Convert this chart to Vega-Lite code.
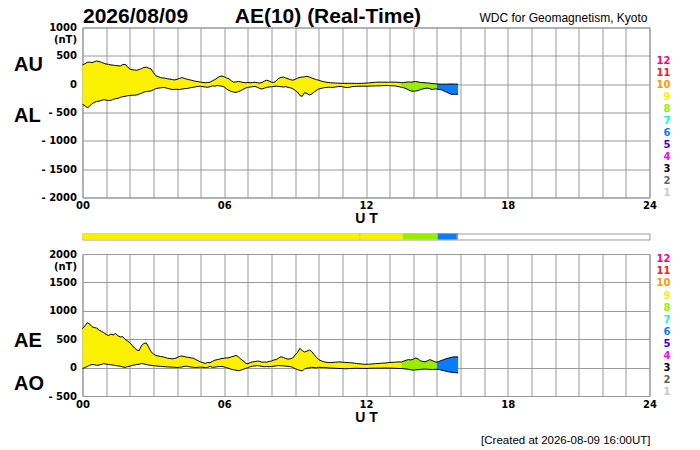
{
  "$schema": "https://vega.github.io/schema/vega-lite/v6.json",
  "description": "AE(10) real-time geomagnetic index, 2026-08-09: AU/AL and AE/AO panels",
  "background": "white",
  "padding": {"left": 12.5, "top": 4.5, "right": 5, "bottom": 2},
  "datasets": {
    "series": [
      {"t":0,"n":9,"au":335,"al":-355,"ae":685,"ao":-15},
      {"t":0.1,"n":9,"au":360,"al":-380,"ae":735,"ao":0},
      {"t":0.2,"n":9,"au":385,"al":-415,"ae":790,"ao":20},
      {"t":0.3,"n":9,"au":390,"al":-390,"ae":770,"ao":40},
      {"t":0.4,"n":9,"au":380,"al":-345,"ae":720,"ao":55},
      {"t":0.5,"n":9,"au":395,"al":-320,"ae":705,"ao":50},
      {"t":0.6,"n":9,"au":410,"al":-305,"ae":695,"ao":40},
      {"t":0.7,"n":9,"au":400,"al":-300,"ae":660,"ao":45},
      {"t":0.8,"n":9,"au":385,"al":-285,"ae":640,"ao":55},
      {"t":0.9,"n":9,"au":370,"al":-275,"ae":615,"ao":70},
      {"t":1.0,"n":9,"au":355,"al":-280,"ae":585,"ao":60},
      {"t":1.1,"n":9,"au":350,"al":-290,"ae":565,"ao":55},
      {"t":1.2,"n":9,"au":340,"al":-285,"ae":590,"ao":50},
      {"t":1.3,"n":9,"au":335,"al":-270,"ae":575,"ao":45},
      {"t":1.4,"n":9,"au":330,"al":-255,"ae":600,"ao":35},
      {"t":1.5,"n":9,"au":325,"al":-250,"ae":560,"ao":30},
      {"t":1.6,"n":9,"au":320,"al":-235,"ae":540,"ao":25},
      {"t":1.7,"n":9,"au":345,"al":-220,"ae":545,"ao":10},
      {"t":1.8,"n":9,"au":350,"al":-215,"ae":500,"ao":5},
      {"t":1.9,"n":9,"au":310,"al":-205,"ae":470,"ao":15},
      {"t":2.0,"n":9,"au":265,"al":-200,"ae":440,"ao":25},
      {"t":2.1,"n":9,"au":255,"al":-195,"ae":390,"ao":40},
      {"t":2.2,"n":9,"au":250,"al":-195,"ae":345,"ao":45},
      {"t":2.3,"n":9,"au":245,"al":-190,"ae":310,"ao":55},
      {"t":2.4,"n":9,"au":260,"al":-175,"ae":300,"ao":60},
      {"t":2.5,"n":9,"au":275,"al":-160,"ae":390,"ao":70},
      {"t":2.6,"n":9,"au":295,"al":-140,"ae":425,"ao":65},
      {"t":2.7,"n":9,"au":300,"al":-130,"ae":435,"ao":55},
      {"t":2.8,"n":9,"au":285,"al":-125,"ae":360,"ao":45},
      {"t":2.9,"n":9,"au":270,"al":-120,"ae":280,"ao":40},
      {"t":3.0,"n":9,"au":205,"al":-100,"ae":240,"ao":35},
      {"t":3.1,"n":9,"au":150,"al":-80,"ae":215,"ao":30},
      {"t":3.2,"n":9,"au":135,"al":-70,"ae":205,"ao":25},
      {"t":3.3,"n":9,"au":115,"al":-65,"ae":195,"ao":22},
      {"t":3.4,"n":9,"au":110,"al":-60,"ae":190,"ao":18},
      {"t":3.5,"n":9,"au":105,"al":-62,"ae":180,"ao":15},
      {"t":3.6,"n":9,"au":95,"al":-75,"ae":165,"ao":12},
      {"t":3.7,"n":9,"au":90,"al":-85,"ae":160,"ao":10},
      {"t":3.8,"n":9,"au":80,"al":-95,"ae":155,"ao":8},
      {"t":3.9,"n":9,"au":75,"al":-92,"ae":160,"ao":5},
      {"t":4.0,"n":9,"au":85,"al":-90,"ae":175,"ao":0},
      {"t":4.1,"n":9,"au":100,"al":-95,"ae":195,"ao":5},
      {"t":4.2,"n":9,"au":115,"al":-88,"ae":205,"ao":10},
      {"t":4.3,"n":9,"au":105,"al":-80,"ae":195,"ao":20},
      {"t":4.4,"n":9,"au":90,"al":-78,"ae":185,"ao":25},
      {"t":4.5,"n":9,"au":80,"al":-70,"ae":180,"ao":15},
      {"t":4.6,"n":9,"au":70,"al":-60,"ae":170,"ao":10},
      {"t":4.7,"n":9,"au":60,"al":-55,"ae":165,"ao":5},
      {"t":4.8,"n":9,"au":50,"al":-45,"ae":140,"ao":0},
      {"t":4.9,"n":9,"au":45,"al":-40,"ae":120,"ao":5},
      {"t":5.0,"n":9,"au":35,"al":-36,"ae":100,"ao":10},
      {"t":5.1,"n":9,"au":30,"al":-45,"ae":85,"ao":5},
      {"t":5.2,"n":9,"au":25,"al":-50,"ae":75,"ao":0},
      {"t":5.3,"n":9,"au":30,"al":-55,"ae":90,"ao":5},
      {"t":5.4,"n":9,"au":35,"al":-45,"ae":85,"ao":20},
      {"t":5.5,"n":9,"au":60,"al":-30,"ae":110,"ao":5},
      {"t":5.6,"n":9,"au":80,"al":-35,"ae":130,"ao":8},
      {"t":5.7,"n":9,"au":110,"al":-25,"ae":140,"ao":15},
      {"t":5.8,"n":9,"au":135,"al":-30,"ae":150,"ao":18},
      {"t":5.9,"n":9,"au":145,"al":-35,"ae":160,"ao":20},
      {"t":6.0,"n":9,"au":130,"al":-50,"ae":165,"ao":12},
      {"t":6.1,"n":9,"au":110,"al":-85,"ae":170,"ao":0},
      {"t":6.2,"n":9,"au":95,"al":-110,"ae":175,"ao":-15},
      {"t":6.3,"n":9,"au":60,"al":-130,"ae":190,"ao":-30},
      {"t":6.4,"n":9,"au":35,"al":-140,"ae":200,"ao":-40},
      {"t":6.5,"n":9,"au":40,"al":-145,"ae":215,"ao":-45},
      {"t":6.6,"n":9,"au":48,"al":-130,"ae":190,"ao":-55},
      {"t":6.7,"n":9,"au":40,"al":-115,"ae":150,"ao":-45},
      {"t":6.8,"n":9,"au":30,"al":-90,"ae":120,"ao":-30},
      {"t":6.9,"n":9,"au":25,"al":-70,"ae":80,"ao":-15},
      {"t":7.0,"n":9,"au":30,"al":-55,"ae":65,"ao":0},
      {"t":7.1,"n":9,"au":25,"al":-50,"ae":90,"ao":15},
      {"t":7.2,"n":9,"au":30,"al":-45,"ae":100,"ao":25},
      {"t":7.3,"n":9,"au":35,"al":-40,"ae":105,"ao":30},
      {"t":7.4,"n":9,"au":25,"al":-55,"ae":115,"ao":35},
      {"t":7.5,"n":9,"au":20,"al":-75,"ae":110,"ao":30},
      {"t":7.6,"n":9,"au":30,"al":-85,"ae":95,"ao":20},
      {"t":7.7,"n":9,"au":55,"al":-70,"ae":100,"ao":15},
      {"t":7.8,"n":9,"au":70,"al":-55,"ae":95,"ao":18},
      {"t":7.9,"n":9,"au":55,"al":-50,"ae":110,"ao":15},
      {"t":8.0,"n":9,"au":35,"al":-45,"ae":115,"ao":20},
      {"t":8.1,"n":9,"au":30,"al":-40,"ae":135,"ao":25},
      {"t":8.2,"n":9,"au":60,"al":-35,"ae":140,"ao":30},
      {"t":8.3,"n":9,"au":100,"al":-40,"ae":170,"ao":35},
      {"t":8.4,"n":9,"au":120,"al":-45,"ae":190,"ao":32},
      {"t":8.5,"n":9,"au":125,"al":-50,"ae":180,"ao":30},
      {"t":8.6,"n":9,"au":110,"al":-45,"ae":160,"ao":25},
      {"t":8.7,"n":9,"au":95,"al":-55,"ae":150,"ao":22},
      {"t":8.8,"n":9,"au":80,"al":-65,"ae":155,"ao":15},
      {"t":8.9,"n":9,"au":70,"al":-80,"ae":170,"ao":5},
      {"t":9.0,"n":9,"au":85,"al":-110,"ae":220,"ao":-20},
      {"t":9.1,"n":9,"au":105,"al":-140,"ae":265,"ao":-35},
      {"t":9.2,"n":9,"au":120,"al":-200,"ae":340,"ao":-50},
      {"t":9.3,"n":9,"au":125,"al":-215,"ae":300,"ao":-58},
      {"t":9.4,"n":9,"au":130,"al":-150,"ae":275,"ao":-25},
      {"t":9.5,"n":9,"au":140,"al":-165,"ae":290,"ao":-10},
      {"t":9.6,"n":9,"au":125,"al":-190,"ae":310,"ao":-5},
      {"t":9.7,"n":9,"au":110,"al":-175,"ae":285,"ao":5},
      {"t":9.8,"n":9,"au":95,"al":-140,"ae":230,"ao":0},
      {"t":9.9,"n":9,"au":80,"al":-110,"ae":180,"ao":-5},
      {"t":10.0,"n":9,"au":70,"al":-85,"ae":140,"ao":5},
      {"t":10.1,"n":9,"au":55,"al":-75,"ae":120,"ao":3},
      {"t":10.2,"n":9,"au":45,"al":-65,"ae":105,"ao":2},
      {"t":10.3,"n":9,"au":35,"al":-60,"ae":95,"ao":0},
      {"t":10.4,"n":9,"au":30,"al":-55,"ae":90,"ao":-5},
      {"t":10.5,"n":9,"au":25,"al":-55,"ae":88,"ao":-8},
      {"t":10.6,"n":9,"au":22,"al":-58,"ae":92,"ao":-10},
      {"t":10.7,"n":9,"au":20,"al":-50,"ae":95,"ao":-12},
      {"t":10.8,"n":9,"au":18,"al":-45,"ae":98,"ao":-15},
      {"t":10.9,"n":9,"au":16,"al":-40,"ae":100,"ao":-16},
      {"t":11.0,"n":9,"au":15,"al":-45,"ae":95,"ao":-18},
      {"t":11.1,"n":9,"au":14,"al":-55,"ae":92,"ao":-20},
      {"t":11.2,"n":9,"au":15,"al":-60,"ae":90,"ao":-20},
      {"t":11.3,"n":9,"au":16,"al":-55,"ae":87,"ao":-18},
      {"t":11.4,"n":9,"au":15,"al":-45,"ae":85,"ao":-15},
      {"t":11.5,"n":9,"au":14,"al":-40,"ae":78,"ao":-13},
      {"t":11.6,"n":9,"au":13,"al":-38,"ae":72,"ao":-12},
      {"t":11.7,"n":9,"au":14,"al":-37,"ae":68,"ao":-13},
      {"t":11.8,"n":9,"au":15,"al":-36,"ae":65,"ao":-14},
      {"t":11.9,"n":9,"au":16,"al":-36,"ae":60,"ao":-15},
      {"t":12.0,"n":9,"au":18,"al":-36,"ae":58,"ao":-15},
      {"t":12.1,"n":9,"au":22,"al":-35,"ae":60,"ao":-14},
      {"t":12.2,"n":9,"au":26,"al":-33,"ae":62,"ao":-12},
      {"t":12.3,"n":9,"au":30,"al":-32,"ae":66,"ao":-11},
      {"t":12.4,"n":9,"au":33,"al":-30,"ae":70,"ao":-10},
      {"t":12.5,"n":9,"au":35,"al":-29,"ae":72,"ao":-10},
      {"t":12.6,"n":9,"au":36,"al":-28,"ae":75,"ao":-10},
      {"t":12.7,"n":9,"au":35,"al":-27,"ae":78,"ao":-9},
      {"t":12.8,"n":9,"au":35,"al":-25,"ae":80,"ao":-8},
      {"t":12.9,"n":9,"au":34,"al":-25,"ae":85,"ao":-9},
      {"t":13.0,"n":9,"au":35,"al":-25,"ae":90,"ao":-10},
      {"t":13.1,"n":9,"au":36,"al":-28,"ae":92,"ao":-11},
      {"t":13.2,"n":9,"au":35,"al":-30,"ae":95,"ao":-12},
      {"t":13.3,"n":9,"au":35,"al":-36,"ae":98,"ao":-14},
      {"t":13.4,"n":9,"au":30,"al":-45,"ae":100,"ao":-15},
      {"t":13.5,"n":9,"au":25,"al":-55,"ae":98,"ao":-17},
      {"t":13.5,"n":8,"au":25,"al":-55,"ae":98,"ao":-17},
      {"t":13.6,"n":8,"au":30,"al":-65,"ae":115,"ao":-20},
      {"t":13.7,"n":8,"au":35,"al":-80,"ae":130,"ao":-25},
      {"t":13.8,"n":8,"au":40,"al":-100,"ae":140,"ao":-30},
      {"t":13.9,"n":8,"au":35,"al":-120,"ae":135,"ao":-40},
      {"t":14.0,"n":8,"au":42,"al":-125,"ae":150,"ao":-44},
      {"t":14.1,"n":8,"au":47,"al":-120,"ae":168,"ao":-40},
      {"t":14.2,"n":8,"au":40,"al":-115,"ae":155,"ao":-38},
      {"t":14.3,"n":8,"au":30,"al":-95,"ae":120,"ao":-32},
      {"t":14.4,"n":8,"au":28,"al":-85,"ae":110,"ao":-28},
      {"t":14.5,"n":8,"au":25,"al":-75,"ae":100,"ao":-25},
      {"t":14.6,"n":8,"au":22,"al":-70,"ae":120,"ao":-28},
      {"t":14.7,"n":8,"au":18,"al":-80,"ae":140,"ao":-32},
      {"t":14.8,"n":8,"au":12,"al":-95,"ae":125,"ao":-35},
      {"t":14.9,"n":8,"au":8,"al":-85,"ae":105,"ao":-30},
      {"t":15.0,"n":8,"au":3,"al":-85,"ae":95,"ao":-30},
      {"t":15.0,"n":6,"au":3,"al":-85,"ae":95,"ao":-30},
      {"t":15.1,"n":6,"au":2,"al":-95,"ae":110,"ao":-35},
      {"t":15.2,"n":6,"au":0,"al":-100,"ae":128,"ao":-45},
      {"t":15.3,"n":6,"au":0,"al":-120,"ae":140,"ao":-55},
      {"t":15.4,"n":6,"au":0,"al":-140,"ae":160,"ao":-65},
      {"t":15.5,"n":6,"au":2,"al":-160,"ae":168,"ao":-75},
      {"t":15.6,"n":6,"au":3,"al":-176,"ae":180,"ao":-80},
      {"t":15.7,"n":6,"au":2,"al":-180,"ae":188,"ao":-85},
      {"t":15.8,"n":6,"au":0,"al":-178,"ae":190,"ao":-90},
      {"t":15.9,"n":6,"au":0,"al":-176,"ae":186,"ao":-93}
    ],
    "counts": [
      {"n":12},{"n":11},{"n":10},{"n":9},{"n":8},{"n":7},
      {"n":6},{"n":5},{"n":4},{"n":3},{"n":2},{"n":1}
    ],
    "segments": [
      {"s":0,"e":11.72,"n":9},
      {"s":11.72,"e":11.77,"n":8},
      {"s":11.77,"e":13.55,"n":9},
      {"s":13.55,"e":15.03,"n":8},
      {"s":15.03,"e":15.84,"n":6},
      {"s":15.84,"e":15.88,"n":11}
    ]
  },
  "vconcat": [
    {
      "width": 567,
      "height": 170,
      "layer": [
        {
          "data": {"name": "series"},
          "layer": [
            {
              "mark": {"type": "area", "interpolate": "linear"},
              "encoding": {
                "x": {
                  "field": "t",
                  "type": "quantitative",
                  "scale": {"domain": [0, 24], "nice": false, "zero": false},
                  "axis": {
                    "values": [0,1,2,3,4,5,6,7,8,9,10,11,12,13,14,15,16,17,18,19,20,21,22,23,24],
                    "tickCount": 30,
                    "labelExpr": "datum.value % 6 == 0 ? (datum.value < 10 ? '0' + datum.value : '' + datum.value) : ''",
                    "title": "U T",
                    "titleY": 24.5,
                    "titleBaseline": "alphabetic",
                    "titleFontSize": 14,
                    "labelPadding": 3
                  }
                },
                "y": {
                  "field": "au",
                  "type": "quantitative",
                  "scale": {"domain": [-2000, 1000], "nice": false, "zero": false},
                  "axis": {
                    "orient": "left",
                    "values": [-2000, -1500, -1000, -500, 0, 500, 1000],
                    "tickCount": 30,
                    "labelExpr": "datum.value == 1000 ? ['1000', '(nT)'] : (datum.value < 0 ? '- ' + (-datum.value) : '' + datum.value)",
                    "labelPadding": 6,
                    "labelLineHeight": 12,
                    "title": ["AU", "AL"],
                    "titleAngle": 0,
                    "titleAlign": "left",
                    "titleBaseline": "alphabetic",
                    "titleX": -69,
                    "titleY": 42.6,
                    "titleLineHeight": 51,
                    "titleFontSize": 20
                  }
                },
                "y2": {"field": "al"},
                "color": {
                  "field": "n",
                  "type": "ordinal",
                  "scale": {
                    "domain": [1,2,3,4,5,6,7,8,9,10,11,12],
                    "range": ["#c8c8c8","#646464","#000000","#ff00ff","#3c00ff","#0a7cff","#00ffd2","#99ee00","#faf000","#ff9900","#ff2020","#ff0080"]
                  },
                  "legend": null
                }
              }
            },
            {
              "mark": {"type": "line", "color": "#000", "strokeWidth": 1},
              "encoding": {
                "x": {"field": "t", "type": "quantitative"},
                "y": {"field": "au", "type": "quantitative"}
              }
            },
            {
              "mark": {"type": "line", "color": "#000", "strokeWidth": 1},
              "encoding": {
                "x": {"field": "t", "type": "quantitative"},
                "y": {"field": "al", "type": "quantitative"}
              }
            },
            {
              "data": {"values": [{"label": "2026/08/09\u00a0\u00a0\u00a0\u00a0\u00a0\u00a0\u00a0\u00a0AE(10) (Real-Time)"}]},
              "mark": {"type": "text", "align": "left", "baseline": "alphabetic", "dx": 0.5, "dy": -4.7, "font": "Liberation Sans", "fontSize": 21, "fontWeight": "bold", "color": "#000"},
              "encoding": {
                "x": {"datum": 0, "type": "quantitative"},
                "y": {"datum": 1000, "type": "quantitative"},
                "text": {"field": "label"}
              }
            },
            {
              "data": {"values": [{"label": "WDC for Geomagnetism, Kyoto"}]},
              "mark": {"type": "text", "align": "right", "baseline": "alphabetic", "dx": -2, "dy": -5.7, "font": "Liberation Sans", "fontSize": 12, "color": "#000"},
              "encoding": {
                "x": {"datum": 24, "type": "quantitative"},
                "y": {"datum": 1000, "type": "quantitative"},
                "text": {"field": "label"}
              }
            }
          ]
        },
        {
          "data": {"name": "counts"},
          "mark": {"type": "text", "align": "right", "baseline": "middle", "dx": 21, "font": "DejaVu Sans", "fontSize": 10, "fontWeight": "bold"},
          "encoding": {
            "x": {"datum": 24, "type": "quantitative"},
            "y": {"field": "n", "type": "quantitative", "scale": {"domain": [0.608, 14.775], "nice": false, "zero": false}, "axis": null},
            "text": {"field": "n", "type": "quantitative"},
            "color": {"field": "n", "type": "ordinal", "legend": null}
          }
        }
      ],
      "resolve": {"scale": {"y": "independent"}}
    },
    {
      "vconcat": [
        {
          "width": 567,
          "height": 6,
          "data": {"name": "segments"},
          "mark": "rect",
          "encoding": {
            "x": {"field": "s", "type": "quantitative", "scale": {"domain": [0, 24], "nice": false, "zero": false}, "axis": null},
            "x2": {"field": "e"},
            "color": {
              "field": "n",
              "type": "ordinal",
              "scale": {
                "domain": [1,2,3,4,5,6,7,8,9,10,11,12],
                "range": ["#c8c8c8","#646464","#000000","#ff00ff","#3c00ff","#0a7cff","#00ffd2","#99ee00","#faf000","#ff9900","#ff2020","#ff0080"]
              },
              "legend": null
            }
          }
        },
        {
          "width": 567,
          "height": 142,
          "layer": [
            {
              "data": {"name": "series"},
              "layer": [
                {
                  "mark": {"type": "area", "interpolate": "linear"},
                  "encoding": {
                    "x": {
                      "field": "t",
                      "type": "quantitative",
                      "scale": {"domain": [0, 24], "nice": false, "zero": false},
                      "axis": {
                        "values": [0,1,2,3,4,5,6,7,8,9,10,11,12,13,14,15,16,17,18,19,20,21,22,23,24],
                        "tickCount": 30,
                        "labelExpr": "datum.value % 6 == 0 ? (datum.value < 10 ? '0' + datum.value : '' + datum.value) : ''",
                        "title": "U T",
                        "titleY": 25,
                        "titleBaseline": "alphabetic",
                        "titleFontSize": 14,
                        "labelPadding": 3
                      }
                    },
                    "y": {
                      "field": "ae",
                      "type": "quantitative",
                      "scale": {"domain": [-500, 2000], "nice": false, "zero": false},
                      "axis": {
                        "orient": "left",
                        "values": [-500, 0, 500, 1000, 1500, 2000],
                        "tickCount": 30,
                        "labelExpr": "datum.value == 2000 ? ['2000', '(nT)'] : (datum.value < 0 ? '- ' + (-datum.value) : '' + datum.value)",
                        "labelPadding": 6,
                        "labelLineHeight": 12,
                        "title": ["AE", "AO"],
                        "titleAngle": 0,
                        "titleAlign": "left",
                        "titleBaseline": "alphabetic",
                        "titleX": -69,
                        "titleY": 92,
                        "titleLineHeight": 43,
                        "titleFontSize": 20
                      }
                    },
                    "y2": {"field": "ao"},
                    "color": {
                      "field": "n",
                      "type": "ordinal",
                      "scale": {
                        "domain": [1,2,3,4,5,6,7,8,9,10,11,12],
                        "range": ["#c8c8c8","#646464","#000000","#ff00ff","#3c00ff","#0a7cff","#00ffd2","#99ee00","#faf000","#ff9900","#ff2020","#ff0080"]
                      },
                      "legend": null
                    }
                  }
                },
                {
                  "mark": {"type": "line", "color": "#000", "strokeWidth": 1},
                  "encoding": {
                    "x": {"field": "t", "type": "quantitative"},
                    "y": {"field": "ae", "type": "quantitative"}
                  }
                },
                {
                  "mark": {"type": "line", "color": "#000", "strokeWidth": 1},
                  "encoding": {
                    "x": {"field": "t", "type": "quantitative"},
                    "y": {"field": "ao", "type": "quantitative"}
                  }
                },
                {
                  "data": {"values": [{"label": "[Created at 2026-08-09 16:00UT]"}]},
                  "mark": {"type": "text", "align": "right", "baseline": "alphabetic", "dx": 1, "dy": 48, "font": "Liberation Sans", "fontSize": 11.5, "color": "#000"},
                  "encoding": {
                    "x": {"datum": 24, "type": "quantitative"},
                    "y": {"datum": -500, "type": "quantitative"},
                    "text": {"field": "label"}
                  }
                }
              ]
            },
            {
              "data": {"name": "counts"},
              "mark": {"type": "text", "align": "right", "baseline": "middle", "dx": 21, "font": "DejaVu Sans", "fontSize": 10, "fontWeight": "bold"},
              "encoding": {
                "x": {"datum": 24, "type": "quantitative"},
                "y": {"field": "n", "type": "quantitative", "scale": {"domain": [0.694, 12.439], "nice": false, "zero": false}, "axis": null},
                "text": {"field": "n", "type": "quantitative"},
                "color": {"field": "n", "type": "ordinal", "legend": null}
              }
            }
          ],
          "resolve": {"scale": {"y": "independent"}}
        }
      ],
      "spacing": 14.5,
      "bounds": "flush"
    }
  ],
  "spacing": 36,
  "bounds": "flush",
  "config": {
    "view": {"stroke": "#999", "strokeWidth": 1},
    "axis": {
      "grid": true,
      "gridColor": "#999",
      "gridOpacity": 1,
      "gridWidth": 1,
      "ticks": false,
      "domain": false,
      "labelFont": "DejaVu Sans",
      "labelFontWeight": "bold",
      "labelFontSize": 10,
      "labelColor": "#000",
      "labelFlush": false,
      "labelOverlap": false,
      "labelBound": false,
      "titleFont": "Liberation Sans",
      "titleFontWeight": "bold",
      "titleColor": "#000"
    }
  }
}
